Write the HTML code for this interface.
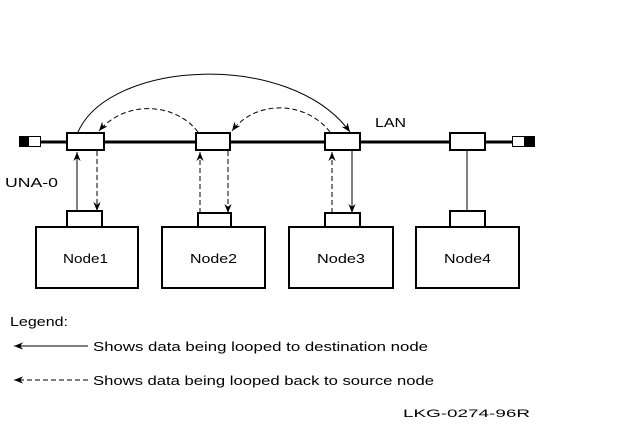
<!DOCTYPE html>
<html><head><meta charset="utf-8"><style>html,body{margin:0;padding:0;background:#fff}svg{display:block}</style></head><body>
<svg width="644" height="426" viewBox="0 0 644 426" xmlns="http://www.w3.org/2000/svg" font-family="Liberation Sans, sans-serif">
<defs>
<marker id="a" viewBox="0 0 10 10" refX="10" refY="5" markerWidth="9" markerHeight="9" orient="auto" markerUnits="userSpaceOnUse"><path d="M0,1 L10,5 L0,9 L3,5 z" fill="#000"/></marker>
</defs>
<g stroke="#000" fill="none">
<line x1="41" y1="142" x2="512" y2="142" stroke-width="3"/>
<rect x="19.5" y="136.5" width="21" height="10" fill="#fff"/>
<rect x="19" y="136" width="10" height="11" fill="#000" stroke="none"/>
<rect x="512.5" y="136.5" width="22" height="10" fill="#fff"/>
<rect x="524" y="136" width="11" height="11" fill="#000" stroke="none"/>
<g stroke-width="2" fill="#fff">
<rect x="67" y="133" width="37" height="17"/>
<rect x="196" y="133" width="34" height="17"/>
<rect x="325" y="133" width="35" height="17"/>
<rect x="450" y="133" width="35" height="17"/>
<rect x="67" y="211" width="35" height="16"/>
<rect x="198" y="213" width="33" height="14"/>
<rect x="325" y="213" width="35" height="14"/>
<rect x="450" y="211" width="35" height="16"/>
<rect x="36" y="227" width="102" height="61"/>
<rect x="162" y="227" width="103" height="61"/>
<rect x="289" y="227" width="104" height="61"/>
<rect x="416" y="227" width="103" height="61"/>
</g>
<line x1="77" y1="211" x2="77" y2="152" marker-end="url(#a)"/>
<line x1="97" y1="151" x2="97" y2="211" stroke-dasharray="5,3" marker-end="url(#a)"/>
<line x1="200" y1="213" x2="200" y2="152" stroke-dasharray="5,3" marker-end="url(#a)"/>
<line x1="228" y1="151" x2="228" y2="213" stroke-dasharray="5,3" marker-end="url(#a)"/>
<line x1="332" y1="213" x2="332" y2="152" stroke-dasharray="5,3" marker-end="url(#a)"/>
<line x1="352" y1="151" x2="352" y2="213" marker-end="url(#a)"/>
<line x1="467" y1="151" x2="467" y2="211"/>
<path d="M78,132 C110,60 290,50 350,132" marker-end="url(#a)"/>
<path d="M198,132 C175,102 125,100 99,131" stroke-dasharray="5,3" marker-end="url(#a)"/>
<path d="M330,132 C305,100 255,100 232,131" stroke-dasharray="5,3" marker-end="url(#a)"/>
<line x1="88" y1="346" x2="14" y2="346" marker-end="url(#a)"/>
<line x1="88" y1="380" x2="14" y2="380" stroke-dasharray="5,3" marker-end="url(#a)"/>
</g>
<g font-size="13" fill="#000">
<text x="375" y="127" textLength="31" lengthAdjust="spacingAndGlyphs">LAN</text>
<text x="5" y="187" textLength="53" lengthAdjust="spacingAndGlyphs">UNA-0</text>
<text x="63" y="263" textLength="45" lengthAdjust="spacingAndGlyphs">Node1</text>
<text x="190" y="263" textLength="47" lengthAdjust="spacingAndGlyphs">Node2</text>
<text x="317" y="263" textLength="48" lengthAdjust="spacingAndGlyphs">Node3</text>
<text x="444" y="263" textLength="47" lengthAdjust="spacingAndGlyphs">Node4</text>
<text x="10" y="326" textLength="58" lengthAdjust="spacingAndGlyphs">Legend:</text>
<text x="93" y="351" textLength="335" lengthAdjust="spacingAndGlyphs">Shows data being looped to destination node</text>
<text x="93" y="385" textLength="341" lengthAdjust="spacingAndGlyphs">Shows data being looped back to source node</text>
<text x="403" y="417" font-size="11" textLength="127" lengthAdjust="spacingAndGlyphs">LKG-0274-96R</text>
</g>
</svg>
</body></html>
